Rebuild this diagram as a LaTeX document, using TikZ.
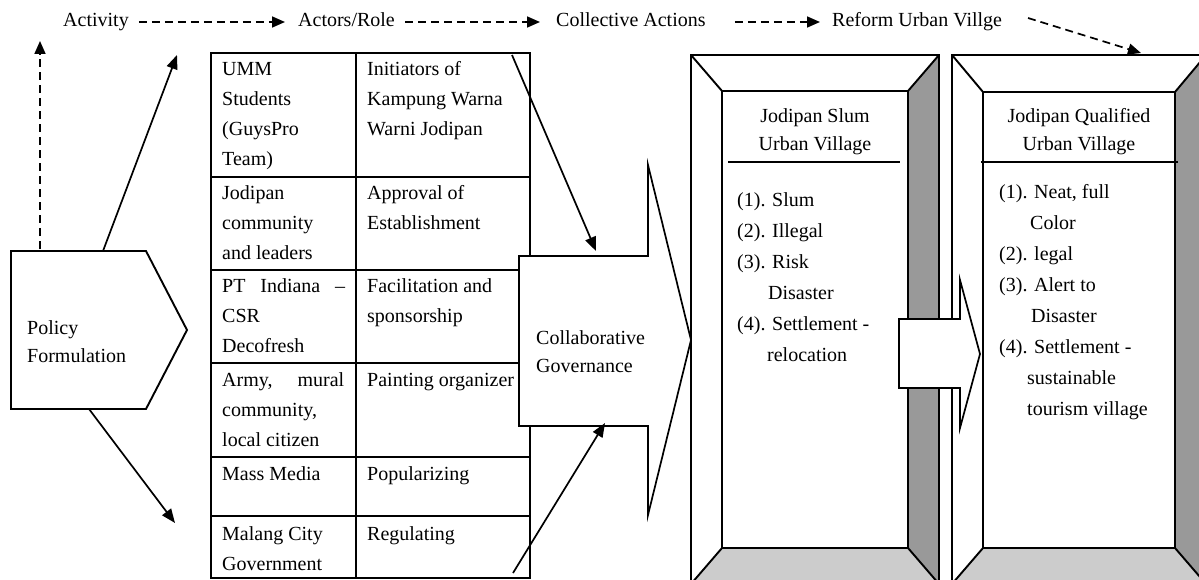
\documentclass[tikz,border=0pt]{standalone}
\usepackage{fontspec}
\setmainfont{Liberation Serif}
\usetikzlibrary{arrows.meta}
\newcommand\mystrut{\rule{0pt}{16pt}}
\definecolor{sidegray}{HTML}{999999}
\definecolor{floorgray}{HTML}{CCCCCC}
\begin{document}
\begin{tikzpicture}[x=1pt,y=-1pt,
  lbl/.style={font=\fontsize{20}{28}\selectfont, inner sep=0pt, anchor=base west, text height=14pt, text depth=4pt},
  celltxt/.style={font=\fontsize{20}{30}\selectfont, inner sep=0pt, anchor=north west, align=left},
  hdtxt/.style={font=\fontsize{20}{28}\selectfont, inner sep=0pt, anchor=north, align=center},
  listtxt/.style={font=\fontsize{20}{31}\selectfont, inner sep=0pt, anchor=north west, align=left},
  shapetxt/.style={font=\fontsize{20}{28}\selectfont, inner sep=0pt, anchor=north west, align=left},
  frameline/.style={draw=black, line width=1.9pt},
  tableline/.style={draw=black, line width=1.4pt},
  blockarrow/.style={draw=black, fill=white, line width=1.7pt, line join=miter},
  dasharrow/.style={line width=1.7pt, dash pattern=on 8pt off 5pt, -{Triangle[length=13pt,width=11pt]}},
  solidarrow/.style={line width=1.7pt, -{Triangle[length=14pt,width=11pt]}}
]
\clip (0,0) rectangle (1199,580);
\fill[white] (0,0) rectangle (1199,580);

% ---------- frame 1 ----------
\fill[sidegray] (908,91) -- (939,55) -- (939,584) -- (908,548) -- cycle;
\fill[floorgray] (722,548) -- (908,548) -- (939,584) -- (691,584) -- cycle;
\draw[frameline] (691,55) rectangle (939,584);
\draw[frameline] (722,91) rectangle (908,548);
\draw[frameline] (691,55) -- (722,91) (939,55) -- (908,91) (722,548) -- (691,584) (908,548) -- (939,584);
\draw[frameline] (728,162) -- (900,162);
\node[hdtxt] (slumhead) at (815,106) {\mystrut Jodipan Slum\\Urban Village};
\node[listtxt] (slumlist) at (737,190) {\mystrut(1). Slum\\(2). Illegal\\(3). Risk\\\hspace*{31pt}Disaster\\(4). Settlement -\\\hspace*{30pt}relocation};

% ---------- frame 2 ----------
\fill[sidegray] (1175,92) -- (1206,55) -- (1206,584) -- (1175,548) -- cycle;
\fill[floorgray] (983,548) -- (1175,548) -- (1206,584) -- (952,584) -- cycle;
\draw[frameline] (952,55) rectangle (1206,584);
\draw[frameline] (983,92) rectangle (1175,548);
\draw[frameline] (952,55) -- (983,92) (1206,55) -- (1175,92) (983,548) -- (952,584) (1175,548) -- (1206,584);
\draw[frameline] (981,162) -- (1178,162);
\node[hdtxt] (qualhead) at (1079,106) {\mystrut Jodipan Qualified\\Urban Village};
\node[listtxt] (quallist) at (999,182) {\mystrut(1). Neat, full\\\hspace*{31pt}Color\\(2). legal\\(3). Alert to\\\hspace*{32pt}Disaster\\(4). Settlement -\\\hspace*{28pt}sustainable\\\hspace*{28pt}tourism village};

% ---------- arrow between frames ----------
\draw[blockarrow] (899,319) -- (960,319) -- (960,280) -- (980,354) -- (960,428) -- (960,388) -- (899,388) -- cycle;

% ---------- table ----------
\draw[tableline] (211,53) rectangle (530,578);
\draw[tableline] (356,53) -- (356,578);
\foreach \yy in {177,270,363,457,516} {\draw[tableline] (211,\yy) -- (530,\yy);}
\node[celltxt] (c11) at (222,59) {\mystrut UMM\\Students\\(GuysPro\\Team)};
\node[celltxt] (c12) at (367,59) {\mystrut Initiators of\\Kampung Warna\\Warni Jodipan};
\node[celltxt] (c21) at (222,183) {\mystrut Jodipan\\community\\and leaders};
\node[celltxt] (c22) at (367,183) {\mystrut Approval of\\Establishment};
\node[celltxt] (c31) at (222,276) {\mystrut\makebox[123pt][s]{PT Indiana –}\\CSR\\Decofresh};
\node[celltxt] (c32) at (367,276) {\mystrut Facilitation and\\sponsorship};
\node[celltxt] (c41) at (222,370) {\mystrut\makebox[122pt][s]{Army, mural}\\community,\\local citizen};
\node[celltxt] (c42) at (367,370) {\mystrut Painting organizer};
\node[celltxt] (c51) at (222,464) {\mystrut Mass Media};
\node[celltxt] (c52) at (367,464) {\mystrut Popularizing};
\node[celltxt] (c61) at (222,524) {\mystrut Malang City\\Government};
\node[celltxt] (c62) at (367,524) {\mystrut Regulating};

% ---------- collaborative governance arrow ----------
\draw[blockarrow] (519,256) -- (648,256) -- (648,165) -- (691,340) -- (648,515) -- (648,426) -- (519,426) -- cycle;
\node[shapetxt] (collab) at (536,328) {\mystrut Collaborative\\Governance};

% ---------- policy formulation ----------
\draw[blockarrow, line width=1.9pt] (11,251) -- (146,251) -- (187,330) -- (146,409) -- (11,409) -- cycle;
\node[shapetxt] (policy) at (27,318) {\mystrut Policy\\Formulation};

% ---------- top labels ----------
\node[lbl] (activity) at (63,27) {Activity};
\node[lbl] (actors) at (298,27) {Actors/Role};
\node[lbl] (collective) at (556,27) {Collective Actions};
\node[lbl] (reform) at (832,27) {Reform Urban Villge};

\draw[dasharrow] ([xshift=10pt]activity.east) -- ([xshift=-13pt]actors.west);
\draw[dasharrow] ([xshift=10pt]actors.east) -- ([xshift=-16pt]collective.west);
\draw[dasharrow] ([xshift=29pt]collective.east) -- ([xshift=-12pt]reform.west);
\coordinate (reformstart) at (1028,18);
\coordinate (frametwotop) at (1141,53);
\draw[dasharrow] (reformstart) -- (frametwotop);

% ---------- connectors ----------
\coordinate (pfdash) at (40,249);
\coordinate (activityup) at (40,41);
\draw[dasharrow] (pfdash) -- (activityup);
\coordinate (pftop) at (103,251);
\coordinate (tabletopleft) at (177,55);
\draw[solidarrow] (pftop) -- (tabletopleft);
\coordinate (pfbottom) at (89,409);
\coordinate (tablebottomleft) at (175,523);
\draw[solidarrow] (pfbottom) -- (tablebottomleft);
\coordinate (tabletopright) at (512,55);
\coordinate (collabtop) at (596,251);
\draw[solidarrow] (tabletopright) -- (collabtop);
\coordinate (tablebottomright) at (513,573);
\coordinate (collabbottom) at (605,423);
\draw[solidarrow] (tablebottomright) -- (collabbottom);
\end{tikzpicture}
\end{document}
